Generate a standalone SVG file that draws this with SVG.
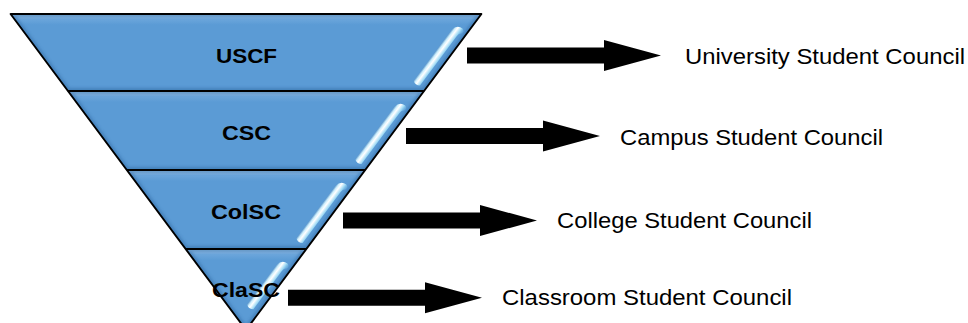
<svg xmlns="http://www.w3.org/2000/svg" width="968" height="323" viewBox="0 0 968 323">
<style>
  .band { fill: url(#bandFill); }
  .edge { fill: none; stroke: #2f69a3; stroke-width: 6; opacity: 0.5; filter: url(#soft); }
  .outline { fill: none; stroke: #000; stroke-width: 1.9; stroke-linejoin: round; }
  .hl { fill: url(#hlFill); }
  .lvl { font-family: "Liberation Sans", Arial, sans-serif; font-weight: bold; font-size: 21px; fill: #000; text-anchor: middle; }
  .lbl { font-family: "Liberation Sans", Arial, sans-serif; font-size: 22px; fill: #000; }
  .arrow { fill: #000; }
</style>
<defs>
  <linearGradient id="bandFill" x1="0" y1="0" x2="0" y2="1">
    <stop offset="0" stop-color="#a9cdee"/>
    <stop offset="0.07" stop-color="#6aa5db"/>
    <stop offset="0.14" stop-color="#5b9bd5"/>
    <stop offset="1" stop-color="#5b9bd5"/>
  </linearGradient>
  <linearGradient id="hlFill" gradientUnits="userSpaceOnUse" x1="-5" y1="0" x2="6" y2="0">
    <stop offset="0" stop-color="#3c78b5" stop-opacity="0.7"/>
    <stop offset="0.25" stop-color="#c9ecfb"/>
    <stop offset="0.45" stop-color="#ffffff"/>
    <stop offset="0.75" stop-color="#9fdaf5"/>
    <stop offset="1" stop-color="#6fb3e3" stop-opacity="0.6"/>
  </linearGradient>
  <filter id="soft" x="-10%" y="-10%" width="120%" height="120%">
    <feGaussianBlur stdDeviation="1.6"/>
  </filter>
  <clipPath id="c1"><polygon points="10.6,14 481.4,14 424.1,91 67.9,91"/></clipPath>
  <clipPath id="c2"><polygon points="67.9,91 424.1,91 365.2,170 126.8,170"/></clipPath>
  <clipPath id="c3"><polygon points="126.8,170 365.2,170 306.3,249 185.7,249"/></clipPath>
  <clipPath id="c4"><polygon points="185.7,249 306.3,249 246,330"/></clipPath>
  <path id="arr" d="M0,-8 H137 V-15.5 L194,0 L137,15.5 V8 H0 Z"/>
  <path id="curl72" d="M-4,72 L-4,7 Q-3,-1 4,-1 Q8,0 6,4 Q4,4 4,9 L4,72 Q0,75 -4,72 Z"/>
  <path id="curl70" d="M-4,70 L-4,7 Q-3,-1 4,-1 Q8,0 6,4 Q4,4 4,9 L4,70 Q0,73 -4,70 Z"/>
  <path id="curl56" d="M-4,56 L-4,7 Q-3,-1 4,-1 Q8,0 6,4 Q4,4 4,9 L4,56 Q0,59 -4,56 Z"/>
</defs>

<g id="band-uscf">
  <polygon class="band" points="10.6,14 481.4,14 424.1,91 67.9,91"/>
  <g clip-path="url(#c1)"><polygon class="edge" points="10.6,14 481.4,14 424.1,91 67.9,91"/></g>
  <use class="hl" href="#curl70" transform="translate(458.7,27) rotate(36.7)"/>
  <text class="lvl" x="246.5" y="62.7" textLength="61" lengthAdjust="spacingAndGlyphs">USCF</text>
</g>

<g id="band-csc">
  <polygon class="band" points="67.9,91 424.1,91 365.2,170 126.8,170"/>
  <g clip-path="url(#c2)"><polygon class="edge" points="67.9,91 424.1,91 365.2,170 126.8,170"/></g>
  <use class="hl" href="#curl72" transform="translate(401.4,104) rotate(36.7)"/>
  <text class="lvl" x="246.5" y="140" textLength="49" lengthAdjust="spacingAndGlyphs">CSC</text>
</g>

<g id="band-colsc">
  <polygon class="band" points="126.8,170 365.2,170 306.3,249 185.7,249"/>
  <g clip-path="url(#c3)"><polygon class="edge" points="126.8,170 365.2,170 306.3,249 185.7,249"/></g>
  <use class="hl" href="#curl72" transform="translate(342.5,183) rotate(36.7)"/>
  <text class="lvl" x="246" y="219" textLength="70" lengthAdjust="spacingAndGlyphs">ColSC</text>
</g>

<g id="band-clasc">
  <polygon class="band" points="185.7,249 306.3,249 246,330"/>
  <g clip-path="url(#c4)"><polygon class="edge" points="185.7,249 306.3,249 246,330"/></g>
  <use class="hl" href="#curl56" transform="translate(283.7,262) rotate(36.7)"/>
  <text class="lvl" x="246" y="296.7" textLength="68" lengthAdjust="spacingAndGlyphs">ClaSC</text>
</g>

<g id="pyramid-outline">
  <polygon class="outline" points="10.6,14 481.4,14 246,330"/>
  <line class="outline" x1="67.9" y1="91" x2="424.1" y2="91"/>
  <line class="outline" x1="126.8" y1="170" x2="365.2" y2="170"/>
  <line class="outline" x1="185.7" y1="249" x2="306.3" y2="249"/>
</g>

<g id="connectors">
  <use class="arrow" href="#arr" transform="translate(467,55.5)"/>
  <use class="arrow" href="#arr" transform="translate(406,136)"/>
  <use class="arrow" href="#arr" transform="translate(343,220.5)"/>
  <use class="arrow" href="#arr" transform="translate(288,297.7)"/>
</g>

<g id="label-university">
  <text class="lbl" x="685" y="63.5" textLength="280" lengthAdjust="spacingAndGlyphs">University Student Council</text>
</g>
<g id="label-campus">
  <text class="lbl" x="620" y="145" textLength="263" lengthAdjust="spacingAndGlyphs">Campus Student Council</text>
</g>
<g id="label-college">
  <text class="lbl" x="557" y="228" textLength="255" lengthAdjust="spacingAndGlyphs">College Student Council</text>
</g>
<g id="label-classroom">
  <text class="lbl" x="502" y="305" textLength="290" lengthAdjust="spacingAndGlyphs">Classroom Student Council</text>
</g>
</svg>
